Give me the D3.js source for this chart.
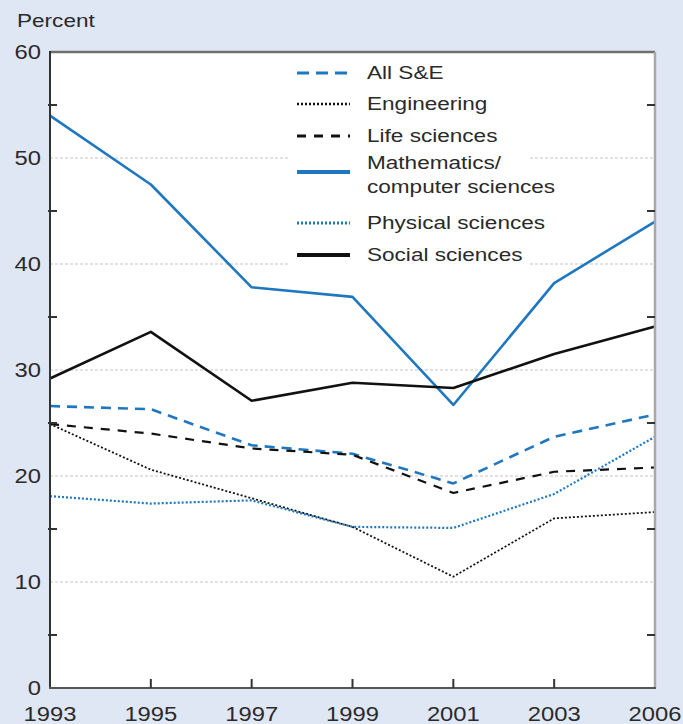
<!DOCTYPE html>
<html>
<head>
<meta charset="utf-8">
<script src="https://cdn.jsdelivr.net/npm/d3@7"></script>
<style>
  html, body { margin: 0; padding: 0; background: #e0e7f4; }
  svg { display: block; }
  text { font-family: "Liberation Sans", Arial, sans-serif; fill: #2a2a2a; }
</style>
</head>
<body>
<svg id="chart" width="683" height="724"></svg>
<script>
const years = ["1993", "1995", "1997", "1999", "2001", "2003", "2006"];
const allSE = [26.6, 26.3, 22.9, 22.1, 19.3, 23.7, 25.8];
const engineering = [24.9, 20.6, 17.9, 15.2, 10.5, 16.0, 16.6];
const lifeSciences = [24.9, 24.0, 22.6, 22.0, 18.4, 20.4, 20.8];
const mathCS = [54.0, 47.5, 37.8, 36.9, 26.7, 38.2, 44.0];
const physicalSciences = [18.1, 17.4, 17.7, 15.2, 15.1, 18.3, 23.7];
const socialSciences = [29.2, 33.6, 27.1, 28.8, 28.3, 31.5, 34.1];
const yTicks = [0, 10, 20, 30, 40, 50, 60];
const yMinorTicks = [5, 15, 25, 35, 45, 55];
const seriesNames = ["All S&E", "Engineering", "Life sciences", "Mathematics/\ncomputer sciences", "Physical sciences", "Social sciences"];

const BLUE = "#1f77c0";
const styles = [
  { color: BLUE, width: 2.6, dash: "10,7" },
  { color: "#111", width: 1.8, dash: "2,2" },
  { color: "#111", width: 2.2, dash: "9,8" },
  { color: BLUE, width: 2.6, dash: null },
  { color: BLUE, width: 2.2, dash: "2,2" },
  { color: "#111", width: 2.6, dash: null }
];
const seriesValues = [allSE, engineering, lifeSciences, mathCS, physicalSciences, socialSciences];

const svg = d3.select("#chart");
const L = 50, R = 655, T = 52, B = 688;
const x = d3.scalePoint().domain(years).range([L, R]).padding(0);
const y = d3.scaleLinear().domain([0, 60]).range([B, T]);
const SX = 1.22;

function stext(g, xx, yy, str, anchor, size) {
  return g.append("text")
    .attr("transform", `translate(${xx},${yy}) scale(${SX},1)`)
    .attr("text-anchor", anchor || "start")
    .attr("font-size", size || 18.5)
    .text(str);
}

// plot area
svg.append("rect").attr("x", L).attr("y", T).attr("width", R - L).attr("height", B - T).attr("fill", "#fff");

// gridlines
svg.append("g").selectAll("line").data(yTicks.filter(d => d > 0 && d < 60)).join("line")
  .attr("x1", L).attr("x2", R).attr("y1", d => y(d)).attr("y2", d => y(d))
  .attr("stroke", "#c4c4c4").attr("stroke-width", 1.2).attr("stroke-dasharray", "3,2");

// legend background
svg.append("rect").attr("x", 290).attr("y", 57).attr("width", 238).attr("height", 212).attr("fill", "#fff");

// lines
const line = d3.line().x((d, i) => x(years[i])).y(d => y(d));
seriesValues.forEach((vals, i) => {
  const s = styles[i];
  svg.append("path").datum(vals)
    .attr("d", line)
    .attr("fill", "none")
    .attr("stroke", s.color)
    .attr("stroke-width", s.width)
    .attr("stroke-dasharray", s.dash)
    .attr("stroke-linejoin", "round");
});

// borders
svg.append("line").attr("x1", L).attr("x2", R).attr("y1", T).attr("y2", T).attr("stroke", "#6f6f6f").attr("stroke-width", 2.5);
svg.append("line").attr("x1", R).attr("x2", R).attr("y1", T).attr("y2", B).attr("stroke", "#a8a8a8").attr("stroke-width", 2.5);

// left axis
const yAxis = svg.append("g").attr("transform", `translate(${L},0)`)
  .call(d3.axisLeft(y).tickValues(yTicks).tickSize(0).tickFormat(d3.format("d")));
yAxis.select(".domain").remove();
yAxis.selectAll("text").remove();
svg.append("line").attr("x1", L).attr("x2", L).attr("y1", T - 1).attr("y2", B + 1).attr("stroke", "#333").attr("stroke-width", 2);
const yl = svg.append("g");
yTicks.forEach(t => stext(yl, 41, y(t) + 7, String(t), "end", 19.5));
svg.append("g").selectAll("line").data(yMinorTicks).join("line")
  .attr("x1", L - 2).attr("x2", L + 7).attr("y1", d => y(d)).attr("y2", d => y(d))
  .attr("stroke", "#333").attr("stroke-width", 2);
svg.append("g").selectAll("line").data(yMinorTicks).join("line")
  .attr("x1", R - 8).attr("x2", R).attr("y1", d => y(d)).attr("y2", d => y(d))
  .attr("stroke", "#333").attr("stroke-width", 2);

// bottom axis
const xAxis = svg.append("g").attr("transform", `translate(0,${B})`)
  .call(d3.axisBottom(x).tickSize(0));
xAxis.select(".domain").remove();
xAxis.selectAll("text").remove();
svg.append("line").attr("x1", L - 1).attr("x2", R + 1).attr("y1", B).attr("y2", B).attr("stroke", "#555").attr("stroke-width", 2.2);
svg.append("g").selectAll("line").data(years.slice(1, -1)).join("line")
  .attr("x1", d => x(d)).attr("x2", d => x(d)).attr("y1", B).attr("y2", B - 9)
  .attr("stroke", "#333").attr("stroke-width", 2);
const xl = svg.append("g");
years.forEach(yr => stext(xl, x(yr), 721, yr, "middle", 19.5));

// axis title
stext(svg, 17, 27, "Percent", "start", 18.5);

// legend
const legRows = [73, 104, 136, 172, 223, 255];
const lg = svg.append("g");
seriesNames.forEach((name, i) => {
  const s = styles[i];
  const ry = legRows[i];
  lg.append("line").attr("x1", 297).attr("x2", 350).attr("y1", ry).attr("y2", ry)
    .attr("stroke", s.color).attr("stroke-width", s.width + (s.dash === null ? 1.5 : 0.6))
    .attr("stroke-dasharray", i === 0 ? "12,7" : (i === 2 ? "9,8" : s.dash));
  const parts = name.split("\n");
  if (parts.length === 1) {
    stext(lg, 367, ry + 6, parts[0], "start", 18.5);
  } else {
    stext(lg, 367, ry - 3, parts[0], "start", 18.5);
    stext(lg, 367, ry + 21, parts[1], "start", 18.5);
  }
});
</script>
</body>
</html>
